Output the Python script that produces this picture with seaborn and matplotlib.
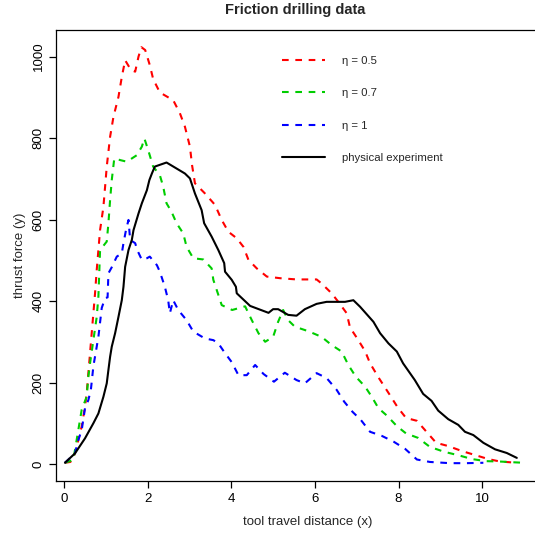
import pandas as pd
import numpy as np
import matplotlib
matplotlib.use("Agg")
import matplotlib.pyplot as plt
import seaborn as sns

# curves
x_red = [0.02, 0.15, 0.22, 0.30, 0.42, 0.50, 0.54, 0.58, 0.62, 0.66, 0.70, 0.74, 0.78, 0.82, 0.86, 0.94,
         0.98, 1.02, 1.10, 1.18, 1.30, 1.38, 1.46, 1.60, 1.70, 1.78, 1.85, 1.94, 2.05, 2.13, 2.29,
         2.49, 2.61, 2.77, 2.89, 3.01, 3.06, 3.13, 3.37, 3.61, 3.77, 3.93, 4.13, 4.29, 4.41, 4.61,
         4.85, 5.17, 5.56, 6.04, 6.16, 6.40, 6.56, 6.76, 6.84, 7.02, 7.20, 7.32, 7.53, 7.77, 7.98,
         8.18, 8.44, 8.67, 8.90, 9.19, 9.51, 9.83, 10.15, 10.43, 10.83]
y_red = [3, 5, 14, 42, 92, 141, 173, 223, 272, 321, 370, 419, 476, 525, 574, 631,
         680, 730, 803, 852, 901, 950, 991, 967, 963, 1000, 1023, 1016, 979, 945, 912,
         900, 893, 861, 828, 779, 734, 689, 664, 636, 599, 570, 554, 533, 501, 480,
         460, 456, 453, 453, 443, 419, 398, 370, 335, 307, 277, 247, 211, 173, 139,
         113, 106, 79, 52, 44, 32, 22, 12, 6, 3]

x_green = [0.02, 0.22, 0.30, 0.38, 0.42, 0.54, 0.58, 0.62, 0.70, 0.78, 0.82, 0.86, 1.02, 1.06, 1.10,
           1.14, 1.20, 1.34, 1.50, 1.74, 1.86, 1.92, 2.01, 2.13, 2.29, 2.37, 2.45, 2.57, 2.69,
           2.85, 2.93, 3.09, 3.33, 3.53, 3.57, 3.69, 3.77, 4.02, 4.33, 4.49, 4.65, 4.81, 5.00,
           5.12, 5.24, 5.36, 5.52, 5.84, 6.16, 6.40, 6.64, 6.80, 6.98, 7.20, 7.36, 7.52, 7.73,
           7.96, 8.18, 8.47, 8.75, 9.09, 9.45, 9.76, 10.09, 10.43, 10.79, 10.99]
y_green = [3, 10, 59, 108, 133, 165, 214, 247, 304, 361, 411, 525, 546, 591, 648,
           697, 750, 746, 742, 758, 779, 799, 771, 730, 709, 681, 640, 619, 591,
           566, 533, 505, 502, 480, 452, 415, 390, 378, 387, 353, 321, 300, 312,
           349, 378, 353, 337, 326, 312, 292, 276, 243, 214, 190, 165, 137, 118,
           93, 75, 64, 42, 30, 21, 12, 7, 6, 4, 3]

x_blue = [0.02, 0.26, 0.34, 0.42, 0.50, 0.58, 0.64, 0.70, 0.78, 0.82, 0.90, 0.98, 1.04, 1.06, 1.14,
          1.26, 1.38, 1.42, 1.48, 1.54, 1.58, 1.70, 1.75, 1.86, 1.98, 2.05, 2.22, 2.29, 2.41,
          2.49, 2.53, 2.61, 2.73, 2.93, 3.09, 3.37, 3.57, 3.69, 3.85, 4.01, 4.17, 4.37, 4.57,
          4.77, 5.02, 5.28, 5.56, 5.76, 6.04, 6.28, 6.52, 6.70, 6.90, 7.10, 7.32, 7.60, 7.88,
          8.16, 8.44, 8.75, 9.23, 9.63, 10.03]
y_blue = [3, 26, 59, 83, 137, 157, 182, 240, 288, 312, 383, 407, 409, 468, 483,
          509, 517, 542, 574, 599, 550, 542, 525, 501, 505, 509, 488, 472, 435,
          402, 370, 402, 378, 353, 325, 308, 304, 296, 272, 250, 218, 218, 243,
          221, 202, 224, 206, 198, 223, 211, 182, 153, 128, 108, 79, 69, 55,
          37, 11, 5, 2, 2, 3]

x_exp = [0.02, 0.26, 0.50, 0.70, 0.82, 0.94, 1.02, 1.06, 1.10, 1.14, 1.22, 1.30, 1.38, 1.42, 1.46,
         1.54, 1.62, 1.66, 1.78, 1.86, 1.98, 2.04, 2.10, 2.17, 2.45, 2.89, 3.01, 3.13, 3.29,
         3.35, 3.53, 3.69, 3.83, 3.85, 4.01, 4.11, 4.13, 4.45, 4.89, 5.00, 5.12, 5.36, 5.56,
         5.76, 6.04, 6.28, 6.72, 6.92, 7.08, 7.40, 7.56, 7.76, 7.96, 8.11, 8.39, 8.59, 8.79,
         8.95, 9.19, 9.43, 9.59, 9.79, 10.03, 10.31, 10.59, 10.83]
y_exp = [3, 26, 63, 100, 124, 165, 198, 231, 263, 288, 321, 361, 402, 435, 484,
         525, 550, 574, 615, 640, 672, 697, 713, 730, 740, 713, 701, 664, 623,
         591, 558, 525, 493, 472, 452, 435, 419, 388, 371, 380, 380, 366, 364,
         380, 393, 398, 398, 402, 386, 349, 321, 296, 276, 247, 206, 172, 155,
         131, 110, 96, 79, 71, 52, 36, 27, 15]

labels = ["η = 0.5", "η = 0.7", "η = 1", "physical experiment"]
colors = ["#FF0000", "#00CD00", "#0000FF", "#000000"]

frames = []
for lab, xs, ys in zip(labels, [x_red, x_green, x_blue, x_exp], [y_red, y_green, y_blue, y_exp]):
    frames.append(pd.DataFrame({"x": xs, "y": ys, "series": lab}))
df = pd.concat(frames, ignore_index=True)

sns.set_style("white")
plt.rcParams['font.family'] = ['Liberation Sans', 'DejaVu Sans']

W, H = 535, 533
fig = plt.figure(figsize=(W / 100, H / 100), dpi=100)
# frame: left 56.3px, top 29.7px, bottom 481.3px, right runs off the image
ax = fig.add_axes([56.3 / W, 1 - 481.3 / H, (560 - 56.3) / W, (481.3 - 29.7) / H])

sns.lineplot(data=df, x="x", y="y", hue="series", style="series",
             hue_order=labels, style_order=labels,
             palette=dict(zip(labels, colors)),
             dashes={labels[0]: (3.2, 3.2), labels[1]: (3.2, 3.2), labels[2]: (3.2, 3.2), labels[3]: ""},
             sort=False, estimator=None, linewidth=1.5, legend=False, ax=ax)

ax.set_xlim(-0.187, (560 - 64.1) / 41.8)
ax.set_ylim(-42.5, 1066)
ax.set_xticks([0, 2, 4, 6, 8, 10])
ax.set_yticks([0, 200, 400, 600, 800, 1000])
ax.tick_params(direction="out", length=5, width=0.9, labelsize=9.5, colors="black", pad=3.5,
               bottom=True, left=True)
for lab in ax.get_yticklabels():
    lab.set_rotation(90)
    lab.set_va("center")
for side in ["left", "bottom", "top"]:
    ax.spines[side].set_color("black")
    ax.spines[side].set_linewidth(0.9)
ax.spines["right"].set_visible(False)

ax.set_xlabel("tool travel distance (x)", fontsize=9.5, labelpad=8)
ax.set_ylabel("thrust force (y)", fontsize=9.5, labelpad=5)
fig.text(295 / W, 1 - 10 / H, "Friction drilling data",
         ha="center", va="center", fontsize=10.5, fontweight="bold")

handles = ax.get_lines()[:4]
fig.legend(handles, labels, loc="center left", bbox_to_anchor=(281.7 / W, 1 - 109.7 / H),
           frameon=False, fontsize=8.2, borderpad=0, borderaxespad=0,
           handlelength=3.8, handletextpad=1.5, labelspacing=1.97)

fig.savefig("out.png", dpi=100)
